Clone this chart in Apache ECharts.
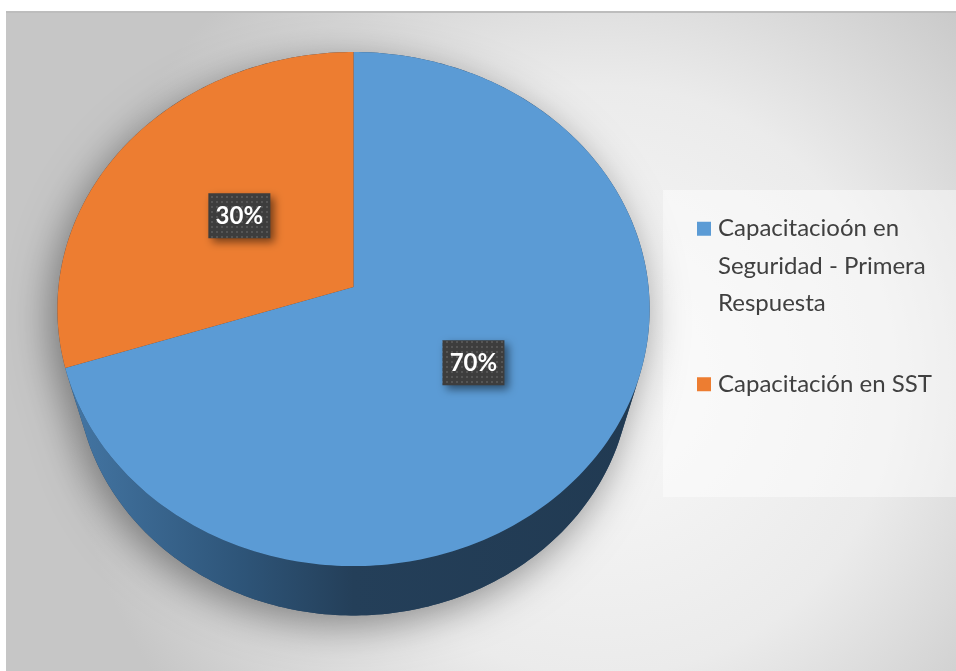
<!DOCTYPE html>
<html><head><meta charset="utf-8">
<script src="https://cdn.jsdelivr.net/npm/echarts@6/dist/echarts.min.js"></script>
<style>html,body{margin:0;padding:0;background:#fff}#c{width:956px;height:671px}</style>
</head><body><div id="c"></div>
<script>
// ---- data ----
const categories = ['Capacitacioón en Seguridad - Primera Respuesta', 'Capacitación en SST'];
const values = [70, 30];
const valueLabels = ['70%', '30%'];
const legendLines = [['Capacitacioón en', 'Seguridad - Primera', 'Respuesta'], ['Capacitación en SST']];

// ---- styling / 3D view ----
const topColors = ['#5B9BD5', '#ED7D31'];
const sideStops = [
  [['#4476a4', 0], ['#2e5579', 0.3], ['#243f59', 0.5], ['#213a52', 1]],
  [['#c0601f', 0], ['#a04f18', 0.5], ['#80400f', 1]]
];
const CX = 353.5, CY = 287;               // screen position of pie centre
const SA = 0.8647, CA = 0.5023;           // sin / cos of tilt
const DIST = 5.85, FOC = 1726, H = 0.453; // perspective distance, focal, thickness

const total = values.reduce((a, b) => a + b, 0);
function angles(i) {
  let before = 0;
  for (let k = 0; k < i; k++) before += values[k];
  return [90 - 360 * before / total, 90 - 360 * (before + values[i]) / total];
}
function proj(x, y, z) {
  const yc = y * CA + z * SA, zc = -y * SA + z * CA;
  return [CX + FOC * x / (DIST + zc), CY - FOC * yc / (DIST + zc)];
}
function rim(t, r, y) {
  const a = t * Math.PI / 180;
  return proj(r * Math.cos(a), y, r * Math.sin(a));
}
function arc(a, b, y) {
  const pts = [];
  const n = Math.max(2, Math.ceil(Math.abs(b - a)));
  for (let k = 0; k <= n; k++) pts.push(rim(a + (b - a) * k / n, 1, y));
  return pts;
}
// side is visible where the outer wall faces the camera
const camZ = -DIST * CA;
const visLim = Math.asin(Math.max(-1, 1 / camZ)) * 180 / Math.PI; // sin(phi) < 1/camZ
const SIDE_LO = -180 - visLim, SIDE_HI = visLim;

// dotted dark pattern for the data labels
const pc = document.createElement('canvas');
pc.width = 5; pc.height = 5;
const pctx = pc.getContext('2d');
pctx.fillStyle = '#3d3d3d'; pctx.fillRect(0, 0, 5, 5);
pctx.fillStyle = '#555555'; pctx.fillRect(1, 1, 2, 2);
const labelFill = { image: pc, repeat: 'repeat' };

function renderItem(params, api) {
  const i = params.seriesIndex;
  const [a1, a2] = angles(i);
  const children = [];
  if (i === 0) {
    const sil = arc(SIDE_HI, SIDE_LO + 360, 0).concat(arc(SIDE_LO, SIDE_HI, -H));
    children.push({
      type: 'polygon', shape: { points: sil },
      style: { fill: '#2a4560', shadowBlur: 40, shadowColor: 'rgba(0,0,0,0.42)', shadowOffsetX: -6, shadowOffsetY: 10 }
    });
  }
  const lo = Math.max(a2, SIDE_LO), hi = Math.min(a1, SIDE_HI);
  if (lo < hi) {
    const pts = arc(hi, lo, 0).concat(arc(lo, hi, -H));
    children.push({
      type: 'polygon', shape: { points: pts },
      style: {
        fill: { type: 'linear', x: 0, y: 0, x2: 1, y2: 0,
          colorStops: sideStops[i].map(s => ({ offset: s[1], color: s[0] })) }
      }
    });
  }
  children.push({
    type: 'polygon', shape: { points: [proj(0, 0, 0)].concat(arc(a1, a2, 0)) },
    style: { fill: topColors[i] }
  });
  const [lx, ly] = rim((a1 + a2) / 2, 0.49, 0);
  children.push({
    type: 'rect', shape: { x: lx - 31, y: ly - 22, width: 62, height: 45 },
    style: { fill: labelFill, shadowBlur: 8, shadowOffsetX: 4, shadowOffsetY: 4, shadowColor: 'rgba(0,0,0,0.5)' }
  });
  children.push({
    type: 'text', x: lx, y: ly + 1,
    style: { text: valueLabels[i], fill: '#ffffff', font: 'bold 24px Lato', align: 'center', verticalAlign: 'middle' }
  });
  return { type: 'group', children };
}

const rich = {
  s: { width: 14, height: 14 },
  t: { fontSize: 24, fontFamily: 'Lato', color: '#404040', padding: [0, 0, 0, 7], lineHeight: 37.5 }
};
topColors.forEach((c, i) => { rich['m' + i] = { width: 14, height: 14, backgroundColor: c }; });

const chart = echarts.init(document.getElementById('c'), null, { renderer: 'canvas' });
chart.setOption({
  animation: false,
  color: topColors,
  graphic: [
    { type: 'rect', shape: { x: 6, y: 12, width: 960, height: 670 }, z: -10,
      style: { fill: { type: 'radial', x: 0.62, y: 0.55, r: 0.8,
        colorStops: [{ offset: 0, color: '#f9f9f9' }, { offset: 0.55, color: '#ebebeb' }, { offset: 1, color: '#c6c6c6' }] } } },
    { type: 'rect', shape: { x: 6, y: 11, width: 960, height: 2 }, z: -9, style: { fill: '#bdbdbd' } },
    { type: 'rect', shape: { x: 663, y: 190, width: 300, height: 307 }, z: -8, style: { fill: 'rgba(255,255,255,0.45)' } }
  ],
  legend: {
    orient: 'vertical', left: 692, top: 210, padding: 0,
    itemWidth: 0, itemHeight: 0, itemGap: 43, icon: 'rect', selectedMode: false,
    data: categories,
    textStyle: { rich: rich, lineHeight: 37.5, fontSize: 24, fontFamily: 'Lato', color: '#404040' },
    formatter: function (name) {
      const i = categories.indexOf(name);
      return legendLines[i].map((l, j) => (j === 0 ? '{m' + i + '|}' : '{s|}') + '{t|' + l + '}').join('\n');
    }
  },
  series: categories.map((name, i) => ({
    type: 'custom', name: name, coordinateSystem: 'none',
    renderItem: renderItem, data: [values[i]], silent: true
  }))
});
</script></body></html>
